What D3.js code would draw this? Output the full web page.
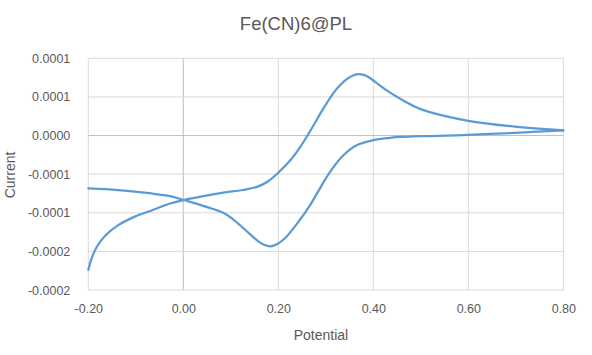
<!DOCTYPE html>
<meta charset="utf-8">
<script src="https://d3js.org/d3.v7.min.js"></script>
<style>
body { margin: 0; background: #fff; }
text { font-family: "Liberation Sans", Arial, sans-serif; fill: #595959; }
</style>
<body>
</body>
<script>

// forward branch (rises to the peak near 0.37 V), current in A
var fwdPotential = [-0.200, -0.193, -0.182, -0.165, -0.137, -0.102, -0.067, -0.028, 0.001, 0.042, 0.084, 0.125, 0.155, 0.178, 0.200, 0.228, 0.246, 0.274, 0.288, 0.302, 0.316, 0.330, 0.344, 0.356, 0.368, 0.380, 0.393, 0.410, 0.428, 0.463, 0.498, 0.600, 0.709, 0.800];
var fwdCurrent = [-0.000174, -0.000159, -0.000144, -0.000130, -0.000116, -0.000105, -0.000097, -0.000088, -0.0000835, -0.0000785, -0.000074, -0.0000705, -0.0000665, -0.0000595, -0.000048, -0.000030, -0.000015, 0.000013, 0.000028, 0.000042, 0.000055, 0.000065, 0.000073, 0.0000775, 0.0000795, 0.0000785, 0.0000745, 0.0000665, 0.0000585, 0.0000455, 0.0000345, 0.000019, 0.000011, 0.0000068];

// reverse branch (dips to the valley near 0.18 V)
var revPotential = [0.800, 0.709, 0.600, 0.498, 0.456, 0.435, 0.400, 0.365, 0.337, 0.309, 0.288, 0.267, 0.242, 0.214, 0.199, 0.183, 0.170, 0.158, 0.130, 0.105, 0.084, 0.042, 0.001, -0.028, -0.067, -0.137, -0.200];
var revCurrent = [0.0000068, 0.0000039, 0.0000008, -0.0000009, -0.0000018, -0.000003, -0.000006, -0.0000125, -0.0000255, -0.000047, -0.000068, -0.000090, -0.000112, -0.000133, -0.000140, -0.0001435, -0.0001415, -0.000137, -0.000122, -0.0001085, -0.0001, -0.000091, -0.0000835, -0.0000785, -0.000075, -0.0000707, -0.0000685];

var xTicks = [-0.2, 0, 0.2, 0.4, 0.6, 0.8];
var xTickLabels = ["-0.20", "0.00", "0.20", "0.40", "0.60", "0.80"];
var yTicks = [0.0001, 0.00005, 0, -0.00005, -0.0001, -0.00015, -0.0002];
var yTickLabels = ["0.0001", "0.0001", "0.0000", "-0.0001", "-0.0001", "-0.0002", "-0.0002"];

var width = 592, height = 355;
var margin = {top: 58.3, right: 28.7, bottom: 65, left: 88.3};

var svg = d3.select("body").append("svg")
  .attr("width", width)
  .attr("height", height);

var xScale = d3.scaleLinear()
  .domain([-0.2, 0.8])
  .range([margin.left, width - margin.right]);

var yScale = d3.scaleLinear()
  .domain([-0.0002, 0.0001])
  .range([height - margin.bottom, margin.top]);

// gridlines
svg.append("g").selectAll("line.vgrid")
  .data(xTicks).enter().append("line")
  .attr("x1", function(d) { return xScale(d); })
  .attr("x2", function(d) { return xScale(d); })
  .attr("y1", yScale(0.0001))
  .attr("y2", yScale(-0.0002))
  .attr("stroke", function(d) { return d === 0 ? "#bfbfbf" : "#d9d9d9"; })
  .attr("stroke-width", 1);

svg.append("g").selectAll("line.hgrid")
  .data(yTicks).enter().append("line")
  .attr("x1", xScale(-0.2))
  .attr("x2", xScale(0.8))
  .attr("y1", function(d) { return yScale(d); })
  .attr("y2", function(d) { return yScale(d); })
  .attr("stroke", function(d) { return d === 0 ? "#bfbfbf" : "#d9d9d9"; })
  .attr("stroke-width", 1);

// axes (labels only, Excel style)
var xAxis = d3.axisBottom(xScale)
  .tickValues(xTicks)
  .tickFormat(function(d, i) { return xTickLabels[i]; })
  .tickSize(0).tickPadding(14);

var yAxis = d3.axisLeft(yScale)
  .tickValues(yTicks)
  .tickFormat(function(d, i) { return yTickLabels[i]; })
  .tickSize(0).tickPadding(18);

svg.append("g")
  .attr("class", "x axis")
  .attr("transform", "translate(0," + yScale(-0.0002) + ")")
  .call(xAxis);

svg.append("g")
  .attr("class", "y axis")
  .attr("transform", "translate(" + xScale(-0.2) + ",0)")
  .call(yAxis);

svg.selectAll(".axis .domain").remove();
svg.selectAll(".axis text")
  .attr("font-family", "Liberation Sans, Arial, sans-serif")
  .attr("font-size", 12.5)
  .attr("fill", "#595959");

// curves
var line = d3.line()
  .x(function(d) { return xScale(d[0]); })
  .y(function(d) { return yScale(d[1]); })
  .curve(d3.curveCatmullRom.alpha(0.5));

var fwd = d3.zip(fwdPotential, fwdCurrent);
var rev = d3.zip(revPotential, revCurrent);

[fwd, rev].forEach(function(branch) {
  svg.append("path")
    .datum(branch)
    .attr("fill", "none")
    .attr("stroke", "#5b9bd5")
    .attr("stroke-width", 2.25)
    .attr("stroke-linecap", "round")
    .attr("d", line);
});

// titles
svg.append("text")
  .attr("x", 296)
  .attr("y", 30)
  .attr("text-anchor", "middle")
  .attr("font-size", 18.5)
  .text("Fe(CN)6@PL");

svg.append("text")
  .attr("x", 321)
  .attr("y", 340)
  .attr("text-anchor", "middle")
  .attr("font-size", 14)
  .text("Potential");

svg.append("text")
  .attr("transform", "translate(14.5,175) rotate(-90)")
  .attr("text-anchor", "middle")
  .attr("font-size", 14)
  .text("Current");

</script>
